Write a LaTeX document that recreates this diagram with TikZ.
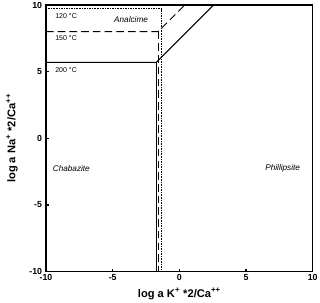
\documentclass[tikz,border=0pt]{standalone}
\usepackage{fontspec}
\setmainfont{Liberation Sans}
\usetikzlibrary{positioning}
\tikzset{
  axbox/.style={line width=1.1pt},
  ticks/.style={line width=0.9pt},
  bnd200/.style={line width=0.8pt},
  bnd150/.style={line width=0.8pt, dash pattern=on 6.5pt off 3.5pt},
  bnd120/.style={line width=0.7pt, dash pattern=on 0.7pt off 0.7pt},
  tlab/.style={font=\fontsize{7.5}{8}\selectfont\bfseries, inner sep=0pt},
  axlab/.style={font=\fontsize{9.5}{10}\selectfont\bfseries},
  templab/.style={font=\fontsize{6}{7}\selectfont, anchor=west, inner sep=0pt},
  phlab/.style={font=\fontsize{7}{8}\selectfont\itshape},
}
\begin{document}
\begin{tikzpicture}[x=0.4cm, y=0.4cm]
  \useasboundingbox (-13.45,-12.325) rectangle (10.55,10.375);
  % frame and ticks
  \draw[axbox] (-10,-10) rectangle (10,10);
  \foreach \v in {-10,-5,0,5,10}{
    \draw[ticks] (\v,-10) -- (\v,-9.78);
    \draw[ticks] (-10,\v) -- (-9.78,\v);
    \node[tlab, anchor=north] (xt\v) at (\v,-10.22) {\v};
    \node[tlab, anchor=east] (yt\v) at (-10.28,\v) {\v};
  }
  \node[axlab] (xlab) at (0,-11.65) {log a K\textsuperscript{+} *2/Ca\textsuperscript{++}};
  \node[axlab, rotate=90] (ylab) at (-12.55,0) {log a Na\textsuperscript{+} *2/Ca\textsuperscript{++}};
  % phase boundaries
  \coordinate (c200) at (-1.73,5.7);
  \coordinate (c150) at (-1.6,8);
  \coordinate (c120) at (-1.35,9.72);
  \draw[bnd200] (-10,5.7) -- (c200) -- (2.57,10);
  \draw[bnd200] (c200) -- (-1.73,-10);
  \draw[bnd150] (-10,8) -- (c150) -- (0.4,10);
  \draw[bnd150] (c150) -- (-1.6,-10);
  \draw[bnd120] (-10,9.72) -- (c120) -- (-1.35,-10);
  \node[templab] (t120) at (-9.32,9.17) {120 °C};
  \node[templab] (t150) at (-9.32,7.52) {150 °C};
  \node[templab] (t200) at (-9.32,5.12) {200 °C};
  \node[phlab] (anal) at (-3.62,8.87) {Analcime};
  \node[phlab] (chab) at (-8.1,-2.25) {Chabazite};
  \node[phlab] (phil) at (7.75,-2.25) {Phillipsite};
\end{tikzpicture}
\end{document}
